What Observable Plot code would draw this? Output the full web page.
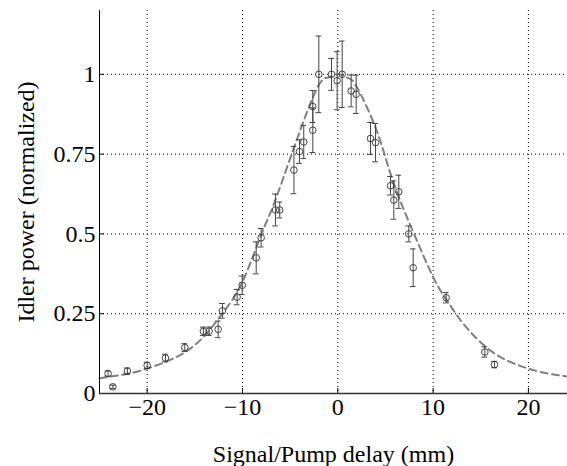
<!DOCTYPE html>
<html><head><meta charset="utf-8">
<script src="https://cdn.jsdelivr.net/npm/d3@7"></script>
<script src="https://cdn.jsdelivr.net/npm/@observablehq/plot@0.6"></script>
<style>body{margin:0;background:#fff} svg text{font-family:"Liberation Serif","Times New Roman",serif !important;font-size:24px !important;}</style>
</head><body><div id="chart"></div>
<script>
// Measured points: signal/pump delay (mm), normalized idler power, error half-width
const delay = [-24.1, -23.6, -22.07, -20.0, -18.08, -16.05, -14.1, -13.5, -12.55, -12.1, -10.56, -10.03, -8.56, -8.04, -6.54, -6.09, -4.6, -4.02, -3.57, -2.62, -2.62, -1.99, -0.66, -0.07, 0.46, 1.4, 1.93, 3.43, 3.96, 5.53, 5.88, 6.4, 7.45, 7.91, 11.37, 15.43, 16.45];
const power = [0.0625, 0.021, 0.070, 0.088, 0.111, 0.144, 0.195, 0.195, 0.201, 0.259, 0.302, 0.339, 0.425, 0.488, 0.575, 0.575, 0.70, 0.758, 0.788, 0.825, 0.899, 1.0, 1.0, 0.98, 1.0, 0.948, 0.9375, 0.799, 0.786, 0.651, 0.606, 0.632, 0.50, 0.394, 0.30, 0.13, 0.0906];
const errHalf = [0.008, 0.005, 0.01, 0.01, 0.012, 0.012, 0.013, 0.013, 0.026, 0.023, 0.024, 0.029, 0.05, 0.029, 0.05, 0.025, 0.074, 0.037, 0.052, 0.07, 0.05, 0.12, 0.05, 0.091, 0.104, 0.05, 0.06, 0.05, 0.06, 0.029, 0.06, 0.052, 0.025, 0.059, 0.016, 0.016, 0.01];

// Fitted curve
const fitDelay = [-25, -22, -20, -18, -16, -14, -12, -10, -8, -6.7, -4.6, -2.2, -1, 0, 1, 2, 4, 5.35, 6.6, 8, 10, 11.37, 12.5, 14, 16, 18, 20, 22, 24.1];
const fitPower = [0.048, 0.062, 0.078, 0.100, 0.130, 0.180, 0.255, 0.35, 0.50, 0.594, 0.77, 0.955, 0.99, 1.0, 0.99, 0.96, 0.83, 0.705, 0.60, 0.50, 0.365, 0.295, 0.245, 0.19, 0.135, 0.10, 0.078, 0.063, 0.053];

const xTicks = [-20, -10, 0, 10, 20];
const xTickLabels = ["−20", "−10", "0", "10", "20"];
const yTicks = [0, 0.25, 0.5, 0.75, 1];
const yTickLabels = ["0", "0.25", "0.5", "0.75", "1"];
const xLabel = "Signal/Pump delay (mm)";
const yLabel = "Idler power (normalized)";

const pts = delay.map((x, i) => ({x, y: power[i], lo: power[i] - errHalf[i], hi: power[i] + errHalf[i]}));
const fit = fitDelay.map((x, i) => ({x, y: fitPower[i]}));
const capHalf = 0.3;
const serif = '"Liberation Serif", "Times New Roman", serif';

const chart = Plot.plot({
  width: 567, height: 466,
  marginLeft: 99, marginRight: 0, marginTop: 10, marginBottom: 73,
  style: {fontFamily: serif, fontSize: "24px", background: "white", color: "black", overflow: "visible"},
  x: {domain: [-25, 24.1]},
  y: {domain: [0, 1.2]},
  marks: [
    Plot.ruleX(xTicks, {stroke: "#000", strokeDasharray: "1,3", strokeWidth: 1}),
    Plot.ruleY(yTicks.filter(d => d > 0), {stroke: "#000", strokeDasharray: "1,3", strokeWidth: 1}),
    Plot.line(fit, {x: "x", y: "y", curve: "natural", stroke: "#7f7f7f", strokeWidth: 2, strokeDasharray: "7,4.5"}),
    Plot.ruleX(pts, {x: "x", y1: "lo", y2: "hi", stroke: "#444", strokeWidth: 1}),
    Plot.ruleY(pts, {y: "lo", x1: d => d.x - capHalf, x2: d => d.x + capHalf, stroke: "#444", strokeWidth: 1}),
    Plot.ruleY(pts, {y: "hi", x1: d => d.x - capHalf, x2: d => d.x + capHalf, stroke: "#444", strokeWidth: 1}),
    Plot.dot(pts, {x: "x", y: "y", r: 3.3, stroke: "#333", fill: "none", strokeWidth: 0.9}),
    Plot.axisX({ticks: xTicks, tickSize: 0, tickPadding: 4, tickFormat: d => xTickLabels[xTicks.indexOf(d)], label: null, fontSize: 24, fontFamily: serif}),
    Plot.axisY({ticks: yTicks, tickSize: 0, tickPadding: 4, tickFormat: d => yTickLabels[yTicks.indexOf(d)], label: null, fontSize: 24, fontFamily: serif}),
    Plot.ruleX(xTicks, {y1: 0, y2: 0.016, stroke: "#000"}),
    Plot.ruleY(yTicks, {x1: -25, x2: -24.5, stroke: "#000"}),
    Plot.ruleX([-25], {stroke: "#000", strokeWidth: 1}),
    Plot.ruleY([0], {stroke: "#333", strokeWidth: 1.5}),
    Plot.text([xLabel], {text: d => d, frameAnchor: "bottom", lineAnchor: "middle", textAnchor: "middle", dy: 61, fontSize: 24, fontFamily: serif}),
    Plot.text([yLabel], {text: d => d, frameAnchor: "left", lineAnchor: "middle", textAnchor: "middle", rotate: -90, dx: -73, fontSize: 24, fontFamily: serif})
  ]
});
document.getElementById("chart").appendChild(chart);
</script>
</body></html>
